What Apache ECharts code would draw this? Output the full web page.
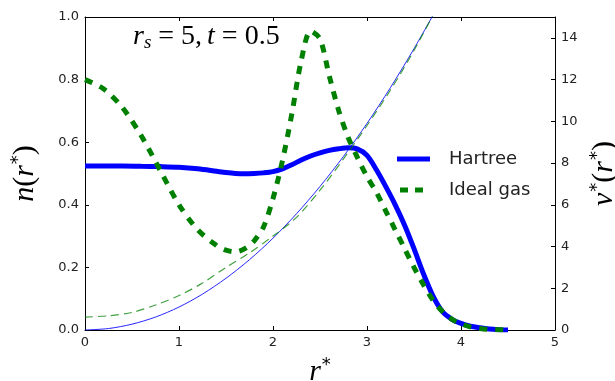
<!DOCTYPE html>
<html lang="en">
<head>
    <meta charset="UTF-8">
    <title>n(r*) and v*(r*)</title>
    <script src="https://cdn.jsdelivr.net/npm/echarts@6/dist/echarts.min.js"></script>
    <style>
        * {
            margin: 0;
            padding: 0;
        }

        #main {
            width: 615px;
            height: 381px;
        }
    </style>
</head>
<body>
    <div id="main"></div>
    <script>
        // densities (left axis)
        const rDens = [0, 0.2, 0.4, 0.6, 0.8, 1.0, 1.2, 1.4, 1.5, 1.6, 1.7, 1.8, 1.9, 2.0, 2.1, 2.2, 2.3, 2.4, 2.5, 2.6, 2.7, 2.8, 2.9, 3.0, 3.1, 3.2, 3.3, 3.4, 3.5, 3.6, 3.7, 3.8, 3.9, 4.0, 4.1, 4.2, 4.3, 4.4, 4.5]
        const nHartree = [0.524, 0.524, 0.524, 0.523, 0.522, 0.520, 0.515, 0.507, 0.503, 0.500, 0.499, 0.500, 0.502, 0.506, 0.515, 0.528, 0.543, 0.556, 0.566, 0.574, 0.579, 0.582, 0.578, 0.558, 0.512, 0.458, 0.400, 0.335, 0.260, 0.180, 0.110, 0.060, 0.035, 0.021, 0.012, 0.007, 0.003, 0.001, 0.0]
        const nIdeal = [0.80, 0.77, 0.71, 0.62, 0.51, 0.40, 0.32, 0.27, 0.255, 0.25, 0.26, 0.285, 0.33, 0.42, 0.54, 0.69, 0.86, 0.955, 0.93, 0.81, 0.70, 0.615, 0.55, 0.49, 0.44, 0.38, 0.32, 0.26, 0.20, 0.145, 0.096, 0.06, 0.035, 0.02, 0.01, 0.005, 0.002, 0.001, 0.0]

        // potentials (right axis)
        const rPot = [0, 0.25, 0.5, 0.75, 1.0, 1.25, 1.5, 1.75, 2.0, 2.25, 2.5, 2.75, 3.0, 3.25, 3.5, 3.75]
        const vHartree = [0, 0.07, 0.28, 0.62, 1.1, 1.72, 2.48, 3.37, 4.4, 5.57, 6.88, 8.32, 9.9, 11.62, 13.48, 15.47]
        const vIdeal = [0.62, 0.68, 0.84, 1.2, 1.65, 2.25, 3.0, 3.7, 4.5, 5.4, 6.7, 8.2, 9.8, 11.5, 13.4, 15.5]

        const legendNames = ['Hartree', 'Ideal gas']

        function pairs(xs, ys) {
            return xs.map((x, i) => [x, ys[i]])
        }

        const serif = 'Liberation Serif'
        const mathRich = {
            i: { fontFamily: serif, fontStyle: 'italic', fontSize: 30, color: '#000' },
            u: { fontFamily: serif, fontSize: 30, color: '#000' },
            sup: { fontFamily: 'DejaVu Sans', fontSize: 18, color: '#000', padding: [0, 0, 14, 1] }
        }
        const noteRich = {
            i: { fontFamily: serif, fontStyle: 'italic', fontWeight: 'normal', fontSize: 28, color: '#000' },
            u: { fontFamily: serif, fontWeight: 'normal', fontSize: 28, color: '#000' },
            sub: { fontFamily: serif, fontStyle: 'italic', fontWeight: 'normal', fontSize: 19, color: '#000', padding: [11, 0, 0, 0] }
        }

        const tickLabel = { color: '#222', fontSize: 13, fontFamily: 'DejaVu Sans' }
        const spine = { onZero: false, lineStyle: { color: '#000', width: 1 } }
        const inTick = { inside: true, length: 4, lineStyle: { color: '#000' } }

        const chart = echarts.init(document.getElementById('main'))

        const option = {
            animation: false,
            title: {
                text: '{i|r}{sub|s}{u| = 5,} {i|t}{u| = 0.5}',
                left: 128,
                top: 17,
                textStyle: { fontWeight: 'normal', rich: noteRich }
            },
            legend: {
                data: [
                    { name: legendNames[0], icon: 'path://M0,0H33V5H0Z' },
                    { name: legendNames[1], icon: 'path://M0,0L0,5M3,0H11V5H3ZM18,0H26V5H18ZM33,0L33,5' }
                ],
                orient: 'vertical',
                left: 392,
                top: 144,
                itemWidth: 33,
                itemHeight: 5,
                itemGap: 11,
                textStyle: { fontFamily: 'DejaVu Sans', fontSize: 18, color: '#222', lineHeight: 20, padding: [0, 0, 0, 14] }
            },
            grid: { left: 85, right: 60, top: 17, bottom: 51, outerBoundsMode: 'none' },
            xAxis: [{
                type: 'value', min: 0, max: 5, interval: 1, position: 'bottom',
                axisLine: spine, axisTick: inTick, splitLine: { show: false },
                axisLabel: Object.assign({ margin: 6 }, tickLabel),
                name: '{i|r}{sup|*}', nameLocation: 'middle', nameGap: 26,
                nameTextStyle: { rich: mathRich }
            }, {
                type: 'value', min: 0, max: 5, interval: 1, position: 'top',
                axisLine: spine, axisTick: inTick, splitLine: { show: false },
                axisLabel: { show: false }
            }],
            yAxis: [{
                type: 'value', min: 0, max: 1, interval: 0.2, position: 'left',
                axisLine: spine, axisTick: inTick, splitLine: { show: false },
                axisLabel: Object.assign({ margin: 6, formatter: v => v.toFixed(1) }, tickLabel),
                name: '{i|n}{u|(}{i|r}{sup|*}{u|)}', nameLocation: 'middle', nameRotate: 90, nameGap: 44,
                nameTextStyle: { rich: mathRich }
            }, {
                type: 'value', min: 0, max: 15, interval: 2, position: 'right',
                axisLine: spine, axisTick: inTick, splitLine: { show: false },
                axisLabel: Object.assign({ margin: 6, showMaxLabel: false }, tickLabel),
                name: '{i|v}{sup|*}{u|(}{i|r}{sup|*}{u|)}', nameLocation: 'middle', nameRotate: 90, nameGap: 29,
                nameTextStyle: { rich: mathRich }
            }],
            series: [{
                name: 'Hartree',
                type: 'line', xAxisIndex: 0, yAxisIndex: 0,
                data: pairs(rDens, nHartree),
                symbol: 'none', smooth: 0.3,
                itemStyle: { color: '#0000ff' },
                lineStyle: { color: '#0000ff', width: 5 }
            }, {
                name: 'Ideal gas',
                type: 'line', xAxisIndex: 0, yAxisIndex: 0,
                data: pairs(rDens, nIdeal),
                symbol: 'none', smooth: 0.3,
                itemStyle: { color: '#008000' },
                lineStyle: { color: '#008000', width: 5, type: [8, 8] }
            }, {
                name: 'v Hartree',
                type: 'line', xAxisIndex: 0, yAxisIndex: 1,
                data: pairs(rPot, vHartree),
                symbol: 'none', smooth: 0.3,
                lineStyle: { color: '#0000ff', width: 1, opacity: 0.85 }
            }, {
                name: 'v Ideal gas',
                type: 'line', xAxisIndex: 0, yAxisIndex: 1,
                data: pairs(rPot, vIdeal),
                symbol: 'none', smooth: 0.3,
                lineStyle: { color: '#008000', width: 1.2, opacity: 0.75, type: [8, 5] }
            }]
        }

        chart.setOption(option)
    </script>
</body>
</html>
